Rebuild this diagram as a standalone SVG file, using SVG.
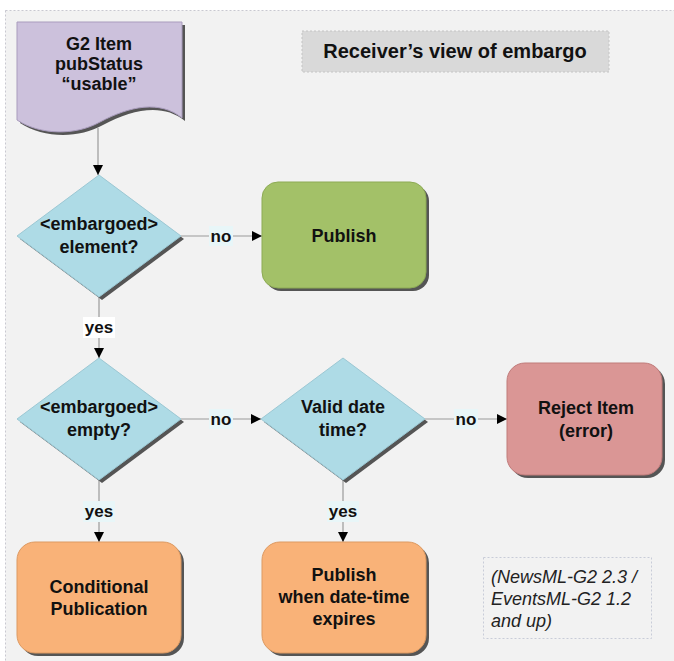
<svg xmlns="http://www.w3.org/2000/svg" width="674" height="661" viewBox="0 0 674 661">
<defs>
<marker id="ah" markerWidth="10" markerHeight="10" refX="10" refY="5" orient="auto" markerUnits="userSpaceOnUse">
<path d="M0,0 L10,5 L0,10 Z" fill="#000"/>
</marker>
<style>
.t{font-family:"Liberation Sans",Arial,sans-serif;font-weight:bold;font-size:18px;fill:#111;text-anchor:middle}
.lbl{font-family:"Liberation Sans",Arial,sans-serif;font-weight:bold;font-size:17px;fill:#111;text-anchor:middle}
.note{font-family:"Liberation Sans",Arial,sans-serif;font-style:italic;font-size:18px;fill:#222}
.sh{fill:#555}
.dia{fill:#aedbe6;stroke:#9cc8d4;stroke-width:1}
.ln{stroke:#999;stroke-width:1.2;fill:none}
</style>
</defs>
<rect x="5.5" y="10.5" width="672" height="655" fill="#f2f2f2" stroke="#c8c8d0" stroke-width="1" stroke-dasharray="2,2"/>
<g id="title">
<rect x="302" y="31" width="307" height="41" fill="#d9d9d9" stroke="#c4c4c4" stroke-dasharray="2,2"/>
<text class="t" x="455" y="58" style="font-size:20px">Receiver’s view of embargo</text>
</g>
<g id="connectors">
<line class="ln" x1="98" y1="128" x2="98" y2="175" marker-end="url(#ah)"/>
<line class="ln" x1="181" y1="236" x2="262" y2="236" marker-end="url(#ah)"/>
<line class="ln" x1="99" y1="297" x2="99" y2="358" marker-end="url(#ah)"/>
<line class="ln" x1="181" y1="419" x2="261" y2="419" marker-end="url(#ah)"/>
<line class="ln" x1="425" y1="419" x2="507" y2="419" marker-end="url(#ah)"/>
<line class="ln" x1="99" y1="480" x2="99" y2="542" marker-end="url(#ah)"/>
<line class="ln" x1="343" y1="480" x2="343" y2="542" marker-end="url(#ah)"/>
<rect x="209" y="226" width="24" height="20" fill="#e8f6f8"/>
<text class="lbl" x="221" y="242">no</text>
<rect x="83" y="317" width="32" height="21" fill="#ffffff"/>
<text class="lbl" x="99" y="333">yes</text>
<rect x="209" y="409" width="24" height="20" fill="#e8f6f8"/>
<text class="lbl" x="221" y="425">no</text>
<rect x="454" y="409" width="24" height="20" fill="#e8f6f8"/>
<text class="lbl" x="466" y="425">no</text>
<rect x="83" y="501" width="32" height="21" fill="#e8f6f8"/>
<text class="lbl" x="99" y="517">yes</text>
<rect x="327" y="501" width="32" height="21" fill="#e8f6f8"/>
<text class="lbl" x="343" y="517">yes</text>
</g>
<g id="g2item">
<path class="sh" transform="translate(3,3)" d="M17,22 H182 V118 C160,100 130,106 100,122 C75,136 40,135 17,120 Z"/>
<path d="M17,22 H182 V118 C160,100 130,106 100,122 C75,136 40,135 17,120 Z" fill="#ccc1dc" stroke="#a99cbd" stroke-width="1"/>
<text class="t" x="99" y="50">G2 Item</text>
<text class="t" x="99" y="70">pubStatus</text>
<text class="t" x="99" y="90">“usable”</text>
</g>
<g id="q-element">
<polygon class="sh" points="102,178 184,239 102,300 20,239"/>
<polygon class="dia" points="99,175 181,236 99,297 17,236"/>
<text class="t" x="99" y="230">&lt;embargoed&gt;</text>
<text class="t" x="99" y="253">element?</text>
</g>
<g id="publish">
<rect class="sh" x="265" y="185" width="164" height="106" rx="16"/>
<rect x="262" y="182" width="164" height="106" rx="16" fill="#a3c168" stroke="#8dab55"/>
<text class="t" x="344" y="242">Publish</text>
</g>
<g id="q-empty">
<polygon class="sh" points="102,361 184,422 102,483 20,422"/>
<polygon class="dia" points="99,358 181,419 99,480 17,419"/>
<text class="t" x="99" y="413">&lt;embargoed&gt;</text>
<text class="t" x="99" y="436">empty?</text>
</g>
<g id="q-valid">
<polygon class="sh" points="346,361 428,422 346,483 264,422"/>
<polygon class="dia" points="343,358 425,419 343,480 261,419"/>
<text class="t" x="343" y="413">Valid date</text>
<text class="t" x="343" y="436">time?</text>
</g>
<g id="reject">
<rect class="sh" x="510" y="366" width="155" height="112" rx="18"/>
<rect x="507" y="363" width="155" height="112" rx="18" fill="#da9695" stroke="#c07c7b"/>
<text class="t" x="586" y="414">Reject Item</text>
<text class="t" x="586" y="437">(error)</text>
</g>
<g id="conditional">
<rect class="sh" x="20" y="545" width="164" height="111" rx="18"/>
<rect x="17" y="542" width="164" height="111" rx="18" fill="#f9b278" stroke="#dd9a62"/>
<text class="t" x="99" y="593">Conditional</text>
<text class="t" x="99" y="615">Publication</text>
</g>
<g id="publish-later">
<rect class="sh" x="265" y="545" width="164" height="111" rx="18"/>
<rect x="262" y="542" width="164" height="111" rx="18" fill="#f9b278" stroke="#dd9a62"/>
<text class="t" x="344" y="581">Publish</text>
<text class="t" x="344" y="603">when date-time</text>
<text class="t" x="344" y="625">expires</text>
</g>
<g id="note">
<rect x="483.5" y="557.5" width="168" height="81" fill="none" stroke="#c8ccd8" stroke-dasharray="2,2"/>
<text class="note" x="491" y="583">(NewsML-G2 2.3 /</text>
<text class="note" x="491" y="605">EventsML-G2 1.2</text>
<text class="note" x="491" y="627">and up)</text>
</g>
</svg>
